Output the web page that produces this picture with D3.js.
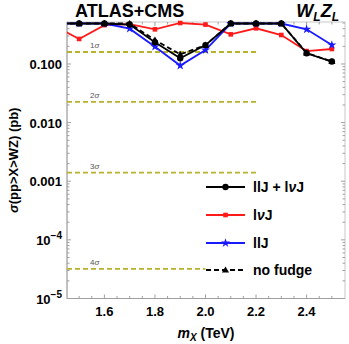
<!DOCTYPE html>
<html>
<head>
<meta charset="utf-8">
<script src="https://cdn.jsdelivr.net/npm/d3@7"></script>
<style>
  body { margin: 0; background: #fff; }
  text { font-family: "Liberation Sans", Arial, sans-serif; }
</style>
</head>
<body>
<div id="chart"></div>
<script>
// masses (TeV); 1.4 lies outside the frame and gets clipped
var masses = [1.4, 1.5, 1.6, 1.7, 1.8, 1.9, 2.0, 2.1, 2.2, 2.3, 2.4, 2.5];
var combined = [0.49, 0.49, 0.49, 0.47, 0.234, 0.125, 0.21, 0.49, 0.49, 0.49, 0.152, 0.11];
var lvJ = [0.45, 0.267, 0.46, 0.48, 0.39, 0.5, 0.47, 0.32, 0.406, 0.312, 0.166, 0.18];
var llJ = [0.49, 0.49, 0.49, 0.4, 0.197, 0.094, 0.173, 0.49, 0.49, 0.49, 0.39, 0.211];
var noFudge = [0.49, 0.49, 0.49, 0.49, 0.256, 0.146, 0.21, 0.49, 0.49, 0.49, 0.155, 0.11];

var sigmaLabels = ["1σ", "2σ", "3σ", "4σ"];
var sigmaValues = [0.16, 0.0225, 0.0014, 0.000032];
var sigmaEnds = [2.2, 2.2, 2.2, 2.0];

var xTicks = [1.6, 1.8, 2.0, 2.2, 2.4];
var yTicks = [1e-5, 1e-4, 1e-3, 1e-2, 1e-1];

var width = 349, height = 344;
var margin = {top: 22, right: 4, bottom: 45.5, left: 67};

var svg = d3.select("#chart").append("svg")
    .attr("width", width)
    .attr("height", height);

var x = d3.scaleLinear().domain([1.452, 2.552]).range([margin.left, width - margin.right]);
var y = d3.scaleLog().domain([1e-5, 0.52]).range([height - margin.bottom, margin.top]);

var axisColor = "#a0a0a0";

// minor ticks
var yMinor = [];
[1e-5, 1e-4, 1e-3, 1e-2, 1e-1].forEach(function (d) {
    for (var k = 1; k < 10; k++) {
        var v = d * k;
        if (v <= 0.52) yMinor.push(v);
    }
});
var xMinor = d3.range(1.5, 2.55, 0.05);

var axes = svg.append("g").attr("class", "axes");

axes.append("rect")
    .attr("x", margin.left).attr("y", margin.top)
    .attr("width", width - margin.right - margin.left)
    .attr("height", height - margin.bottom - margin.top)
    .attr("fill", "none")
    .attr("stroke", "#c8c8c8")
    .attr("stroke-width", 1);

axes.append("line")
    .attr("x1", margin.left).attr("x2", margin.left)
    .attr("y1", margin.top).attr("y2", height - margin.bottom)
    .attr("stroke", axisColor);
axes.append("line")
    .attr("x1", margin.left).attr("x2", width - margin.right)
    .attr("y1", height - margin.bottom).attr("y2", height - margin.bottom)
    .attr("stroke", axisColor);

yMinor.forEach(function (v) {
    var major = yTicks.indexOf(v) >= 0;
    var len = major ? 4 : 2.5;
    axes.append("line")
        .attr("x1", margin.left).attr("x2", margin.left + len)
        .attr("y1", y(v)).attr("y2", y(v))
        .attr("stroke", axisColor);
    axes.append("line")
        .attr("x1", width - margin.right).attr("x2", width - margin.right - len)
        .attr("y1", y(v)).attr("y2", y(v))
        .attr("stroke", axisColor);
});

xMinor.forEach(function (v) {
    var major = xTicks.some(function (t) { return Math.abs(t - v) < 1e-6; });
    var len = major ? 4 : 2.5;
    axes.append("line")
        .attr("x1", x(v)).attr("x2", x(v))
        .attr("y1", height - margin.bottom).attr("y2", height - margin.bottom - len)
        .attr("stroke", axisColor);
    axes.append("line")
        .attr("x1", x(v)).attr("x2", x(v))
        .attr("y1", margin.top).attr("y2", margin.top + len)
        .attr("stroke", axisColor);
});

// tick labels
xTicks.forEach(function (t) {
    axes.append("text")
        .attr("x", x(t)).attr("y", height - margin.bottom + 17)
        .attr("text-anchor", "middle")
        .attr("font-size", 13).attr("font-weight", "bold")
        .text(d3.format(".1f")(t));
});

var yLabelText = ["10", "10", "0.001", "0.010", "0.100"];
yTicks.forEach(function (t, i) {
    var g = axes.append("text")
        .attr("x", margin.left - 5).attr("y", y(t) + 5)
        .attr("text-anchor", "end")
        .attr("font-size", 13).attr("font-weight", "bold");
    if (i < 2) {
        g.append("tspan").text("10");
        g.append("tspan").attr("dy", -6).attr("font-size", 10)
            .text(i === 0 ? "\u22125" : "\u22124");
    } else {
        g.text(yLabelText[i]);
    }
});

// axis titles
var xl = svg.append("text")
    .attr("x", (margin.left + width - margin.right) / 2)
    .attr("y", 338)
    .attr("text-anchor", "middle")
    .attr("font-size", 14).attr("font-weight", "bold");
xl.append("tspan").attr("font-style", "italic").text("m");
xl.append("tspan").attr("font-style", "italic").attr("font-size", 10).attr("dy", 3).text("X");
xl.append("tspan").attr("dy", -3).text(" (TeV)");

svg.append("text")
    .attr("transform", "translate(18," + ((margin.top + height - margin.bottom) / 2) + ") rotate(-90)")
    .attr("text-anchor", "middle")
    .attr("font-size", 13).attr("font-weight", "bold")
    .html('<tspan font-style="italic">σ</tspan>(pp&gt;X&gt;WZ) (pb)');

// titles above frame
svg.append("text")
    .attr("x", 75).attr("y", 17)
    .attr("font-size", 18).attr("font-weight", "bold")
    .text("ATLAS+CMS");
var wz = svg.append("text")
    .attr("x", 339).attr("y", 17)
    .attr("text-anchor", "end")
    .attr("font-size", 18).attr("font-weight", "bold").attr("font-style", "italic");
wz.append("tspan").text("W");
wz.append("tspan").attr("font-size", 12).attr("dy", 4).text("L");
wz.append("tspan").attr("dy", -4).text("Z");
wz.append("tspan").attr("font-size", 12).attr("dy", 4).text("L");

// sigma lines
var sigColor = "#b8b12c";
sigmaValues.forEach(function (v, i) {
    svg.append("line")
        .attr("x1", margin.left).attr("x2", x(sigmaEnds[i]))
        .attr("y1", y(v)).attr("y2", y(v))
        .attr("stroke", sigColor)
        .attr("stroke-width", 1.8)
        .attr("stroke-dasharray", "5,3");
    var s = svg.append("text")
        .attr("x", 90).attr("y", y(v) - 4)
        .attr("font-size", 8).attr("fill", "#555");
    s.append("tspan").text(sigmaLabels[i].charAt(0));
    s.append("tspan").attr("font-style", "italic").text("σ");
});

// clip
svg.append("defs").append("clipPath").attr("id", "body-clip")
    .append("rect")
    .attr("x", margin.left).attr("y", margin.top - 2)
    .attr("width", width - margin.right - margin.left)
    .attr("height", height - margin.bottom - margin.top + 2);

var body = svg.append("g").attr("clip-path", "url(#body-clip)");

var series = [
    {name: "lvJ", values: lvJ, color: "#ff1a1a", marker: "square", dash: null},
    {name: "llJ", values: llJ, color: "#1a1aff", marker: "diamond", dash: null},
    {name: "combined", values: combined, color: "#000", marker: "circle", dash: null},
    {name: "noFudge", values: noFudge, color: "#000", marker: "triangle", dash: "5,3"}
];

var line = d3.line()
    .x(function (d) { return x(d[0]); })
    .y(function (d) { return y(d[1]); });

function drawMarker(g, type, cx, cy, color) {
    if (type === "circle") {
        g.append("circle").attr("cx", cx).attr("cy", cy).attr("r", 3.2).attr("fill", color);
    } else if (type === "square") {
        g.append("rect").attr("x", cx - 2.3).attr("y", cy - 2.3).attr("width", 4.6).attr("height", 4.6).attr("fill", color);
    } else if (type === "diamond") {
        g.append("path").attr("d", d3.symbol(d3.symbolStar, 26)()).attr("transform", "translate(" + cx + "," + cy + ")").attr("fill", color);
    } else if (type === "triangle") {
        g.append("path").attr("d", d3.symbol(d3.symbolTriangle, 22)()).attr("transform", "translate(" + cx + "," + (cy + 0.5) + ")").attr("fill", color);
    }
}

series.forEach(function (s) {
    var pts = masses.map(function (m, i) { return [m, s.values[i]]; });
    body.append("path")
        .datum(pts)
        .attr("d", line)
        .attr("fill", "none")
        .attr("stroke", s.color)
        .attr("stroke-width", 1.8)
        .attr("stroke-dasharray", s.dash);
    pts.forEach(function (p) {
        drawMarker(body, s.marker, x(p[0]), y(p[1]), s.color);
    });
});

// legend
var legend = [
    {label: "llJ + l\u03BDJ", color: "#000", marker: "circle", dash: null, yy: 187},
    {label: "l\u03BDJ", color: "#ff1a1a", marker: "square", dash: null, yy: 215},
    {label: "llJ", color: "#1a1aff", marker: "diamond", dash: null, yy: 243},
    {label: "no fudge", color: "#000", marker: "triangle", dash: "5,3", yy: 270}
];
var lg = svg.append("g");
legend.forEach(function (d) {
    lg.append("line")
        .attr("x1", 206).attr("x2", 245)
        .attr("y1", d.yy).attr("y2", d.yy)
        .attr("stroke", d.color).attr("stroke-width", 1.8)
        .attr("stroke-dasharray", d.dash);
    drawMarker(lg, d.marker, 225.5, d.yy, d.color);
    var t = lg.append("text")
        .attr("x", 253).attr("y", d.yy + 5)
        .attr("font-size", 14).attr("font-weight", "bold");
    if (d.label.indexOf("\u03BD") >= 0) {
        var parts = d.label.split("\u03BD");
        t.append("tspan").text(parts[0]);
        t.append("tspan").attr("font-style", "italic").text("\u03BD");
        t.append("tspan").text(parts[1]);
    } else {
        t.text(d.label);
    }
});
</script>
</body>
</html>
